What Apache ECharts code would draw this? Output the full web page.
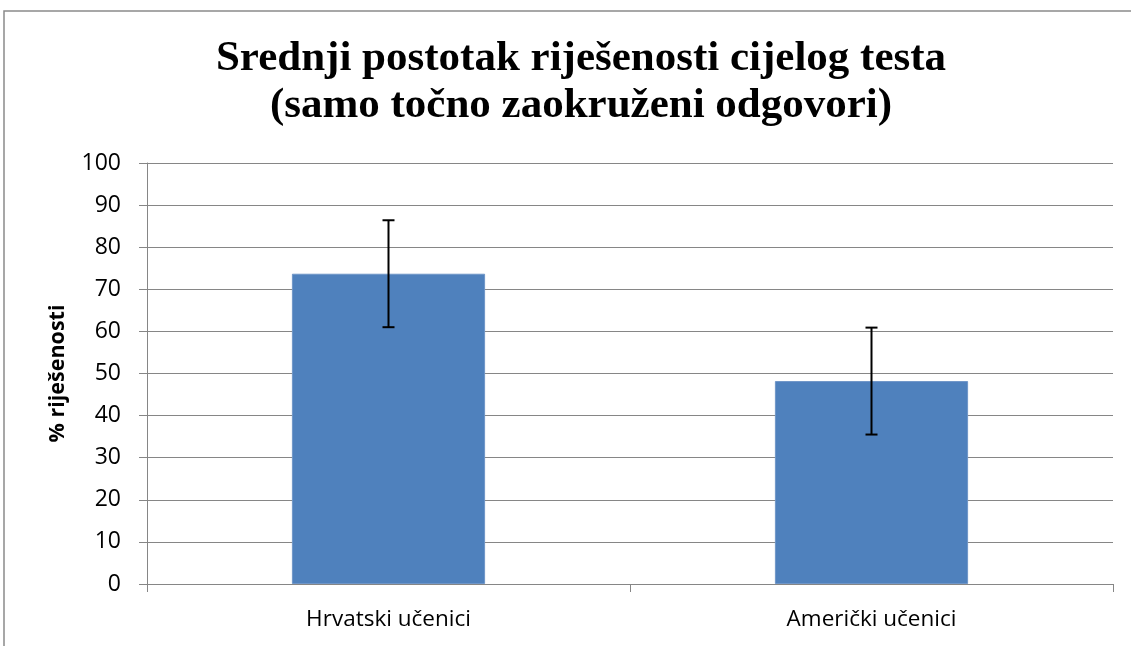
<!DOCTYPE html>
<html><head><meta charset="utf-8">
<script src="https://cdn.jsdelivr.net/npm/echarts@6/dist/echarts.min.js"></script>
<style>html,body{margin:0;padding:0;background:#fff}#c{width:1131px;height:646px}</style>
</head><body><div id="c"></div>
<script>
const categories = ['Hrvatski učenici', 'Američki učenici'];
const values = [73.7, 48.2];
const errLow = [61.0, 35.5];
const errHigh = [86.4, 60.9];
const yTicks = {min: 0, max: 100, interval: 10};

const chart = echarts.init(document.getElementById('c'));
const gridColor = '#868686';
chart.setOption({
  animation: false,
  graphic: [{type: 'rect', shape: {x: 4, y: 11, width: 1300, height: 800}, style: {fill: 'none', stroke: '#8a8a8a', lineWidth: 1.5}, silent: true}],
  title: {
    text: 'Srednji postotak riješenosti cijelog testa\n(samo točno zaokruženi odgovori)',
    left: 576, top: 30, textAlign: 'center',
    textStyle: {fontFamily: 'Liberation Serif', fontWeight: 'bold', fontSize: 43, lineHeight: 47, color: '#000'}
  },
  grid: {left: 147, right: 18, top: 163, bottom: 62},
  xAxis: {
    type: 'category', data: categories,
    axisLine: {lineStyle: {color: gridColor, width: 1}},
    axisTick: {show: true, length: 8, lineStyle: {color: gridColor}},
    axisLabel: {margin: 24, fontSize: 22.5, color: '#000', fontFamily: 'Open Sans'}
  },
  yAxis: {
    type: 'value', min: yTicks.min, max: yTicks.max, interval: yTicks.interval,
    name: '% riješenosti', nameLocation: 'middle', nameGap: 78, nameRotate: 90,
    nameTextStyle: {fontSize: 21.5, fontWeight: 'bold', color: '#000', fontFamily: 'Open Sans'},
    axisLine: {show: true, lineStyle: {color: gridColor, width: 1}},
    axisTick: {show: true, length: 8, lineStyle: {color: gridColor}},
    axisLabel: {margin: 26, fontSize: 23, color: '#000', fontFamily: 'Open Sans'},
    splitLine: {lineStyle: {color: gridColor, width: 1}}
  },
  series: [
    {type: 'bar', data: values, barWidth: '40%', itemStyle: {color: '#4F81BD', borderColor: '#6f96c8', borderWidth: 1}},
    {type: 'custom', data: categories.map((c, i) => [i, errLow[i], errHigh[i]]), z: 10,
     renderItem: function (params, api) {
       const lo = api.coord([api.value(0), api.value(1)]);
       const hi = api.coord([api.value(0), api.value(2)]);
       const hw = 6;
       const st = {stroke: '#000', lineWidth: 2};
       return {type: 'group', children: [
         {type: 'line', shape: {x1: hi[0], y1: hi[1], x2: lo[0], y2: lo[1]}, style: st},
         {type: 'line', shape: {x1: hi[0] - hw, y1: hi[1], x2: hi[0] + hw, y2: hi[1]}, style: st},
         {type: 'line', shape: {x1: lo[0] - hw, y1: lo[1], x2: lo[0] + hw, y2: lo[1]}, style: st}
       ]};
     }}
  ]
});
</script></body></html>
